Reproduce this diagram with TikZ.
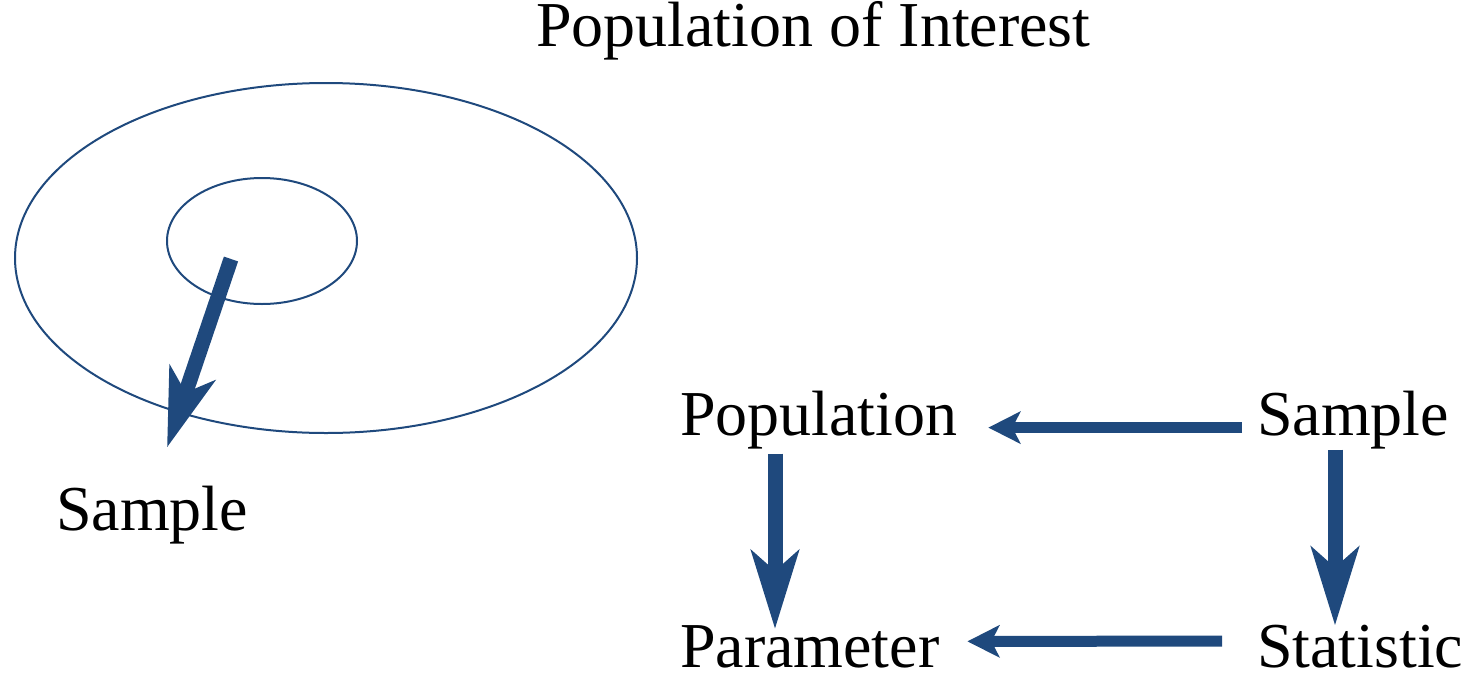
\documentclass[tikz,border=0pt]{standalone}
\usepackage{fontspec}
\setmainfont{Liberation Serif}
\usetikzlibrary{arrows.meta}
\definecolor{navy}{HTML}{1F497D}
\begin{document}
\begin{tikzpicture}[x=1pt,y=-1pt,
  lbl/.style={anchor=base west,inner sep=0pt,outer sep=0pt,font=\fontsize{64}{70}\selectfont},
  ring/.style={draw=navy,line width=2pt},
  bigarrow/.style={draw=navy,line width=15pt,-{Stealth[length=78pt,width=47pt,inset=20pt]}},
  harrow/.style={draw=navy,line width=11pt,-{Stealth[length=32pt,width=32pt,inset=8pt]}}]
\useasboundingbox (0,0) rectangle (1472,672);
\node[lbl] (title) at (536,46) {Population of Interest};
\draw[ring] (326,258) ellipse [x radius=311, y radius=175];
\draw[ring] (262,241) ellipse [x radius=95, y radius=63];
\node[lbl] (sampleL) at (56,530) {Sample};
\coordinate (inner) at (231,259);
\draw[bigarrow] (inner) -- ([xshift=111pt,yshift=38pt]sampleL.north west);
\node[lbl] (pop) at (680,435) {Population};
\node[lbl] (sampleR) at (1257,435) {Sample};
\node[lbl] (param) at (680,667) {Parameter};
\node[lbl] (stat) at (1257,667) {Statistic};
\draw[harrow] ([xshift=-15pt,yshift=-8pt]sampleR.west) -- ([xshift=31pt,yshift=-8pt]pop.east);
\draw[harrow] ([xshift=-35pt,yshift=5pt]stat.west) -- ([xshift=28pt,yshift=5pt]param.east);
\draw[bigarrow] ([xshift=95pt,yshift=-5pt]pop.south west) -- ([xshift=95pt,yshift=-4pt]param.north west);
\draw[bigarrow] ([xshift=78pt,yshift=-1pt]sampleR.south west) -- ([xshift=78pt,yshift=-1pt]stat.north west);
\end{tikzpicture}
\end{document}
